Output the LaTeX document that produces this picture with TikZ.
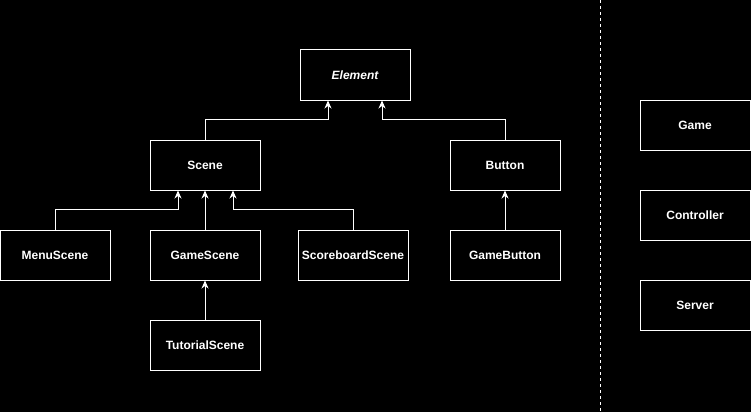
\documentclass[tikz,border=0pt]{standalone}
\usepackage{fontspec}
\setmainfont{Liberation Sans}
\usetikzlibrary{arrows.meta}
\begin{document}
\begin{tikzpicture}[x=1pt,y=-1pt,
  cls/.style={draw=white,line width=1pt,fill=black,text=white,minimum width=110pt,minimum height=50pt,inner sep=0pt,
    font=\fontsize{12}{14}\selectfont\bfseries},
  inh/.style={draw=white,line width=1pt,-{Stealth[length=8pt,width=7pt,inset=2.5pt]}},
  sep/.style={draw=white,line width=1pt,dash pattern=on 3pt off 3pt}]
\fill[black] (0,0) rectangle (751,412);
\useasboundingbox (0,0) rectangle (751,412);
\node[cls,font=\fontsize{12}{14}\selectfont\bfseries\itshape] (element) at (355,75) {Element};
\node[cls] (scene) at (205,165) {Scene};
\node[cls] (button) at (505,165) {Button};
\node[cls] (menu) at (55,255) {MenuScene};
\node[cls] (gamescene) at (205,255) {GameScene};
\node[cls] (score) at (353,255) {ScoreboardScene};
\node[cls] (gamebutton) at (505,255) {GameButton};
\node[cls] (tutorial) at (205,345) {TutorialScene};
\node[cls] (game) at (695,125) {Game};
\node[cls] (controller) at (695,215) {Controller};
\node[cls] (server) at (695,305) {Server};
\coordinate (septop) at (600.5,0);
\coordinate (sepbot) at (600.5,412);
\draw[sep] (septop) -- (sepbot);
\draw[inh] (scene.north) -- ++(0,-20) -| ([xshift=-27pt]element.south);
\draw[inh] (button.north) -- ++(0,-20) -| ([xshift=27pt]element.south);
\draw[inh] (menu.north) -- ++(0,-20) -| ([xshift=-27pt]scene.south);
\draw[inh] (gamescene.north) -- (scene.south);
\draw[inh] (score.north) -- ++(0,-20) -| ([xshift=28pt]scene.south);
\draw[inh] (gamebutton.north) -- (button.south);
\draw[inh] (tutorial.north) -- (gamescene.south);
\end{tikzpicture}
\end{document}
